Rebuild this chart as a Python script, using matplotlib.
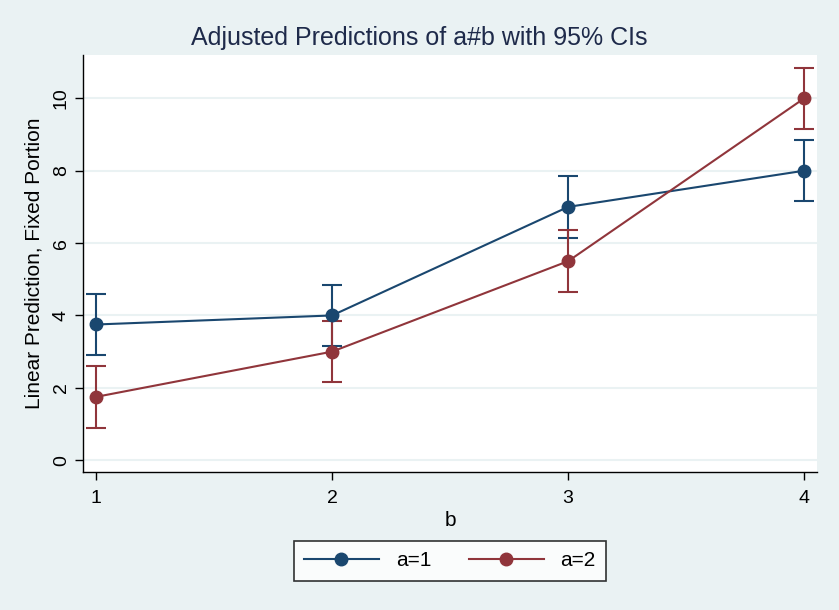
import numpy as np
import matplotlib.pyplot as plt

plt.rcParams['font.family'] = ['Liberation Sans Narrow', 'Liberation Sans', 'DejaVu Sans']

b_levels = [1, 2, 3, 4]
a1_pred = [3.75, 4.0, 7.0, 8.0]
a1_lo = [2.9, 3.15, 6.15, 7.15]
a1_hi = [4.6, 4.85, 7.85, 8.85]
a2_pred = [1.75, 3.0, 5.5, 10.0]
a2_lo = [0.9, 2.15, 4.65, 9.15]
a2_hi = [2.6, 3.85, 6.35, 10.85]

navy = '#1a476f'
maroon = '#90353b'
bg = '#eaf2f3'

fig = plt.figure(figsize=(8.39, 6.10), dpi=100, facecolor=bg)
ax = fig.add_axes([0.099, 0.226, 0.875, 0.684])
ax.set_facecolor('white')

for pred, lo, hi, col, lab in [(a1_pred, a1_lo, a1_hi, navy, 'a=1'),
                               (a2_pred, a2_lo, a2_hi, maroon, 'a=2')]:
    pred = np.array(pred)
    yerr = [pred - np.array(lo), np.array(hi) - pred]
    ax.errorbar(b_levels, pred, yerr=yerr, fmt='none', ecolor=col,
                elinewidth=1.5, capsize=7, capthick=1.5, zorder=2)
    ax.plot(b_levels, pred, color=col, lw=1.5, marker='o', ms=9, label=lab, zorder=3)

ax.set_xlim(0.945, 4.055)
ax.set_ylim(-0.33, 11.2)
ax.set_xticks(b_levels)
ax.set_yticks([0, 2, 4, 6, 8, 10])
ax.grid(axis='y', color=bg, lw=1.5)
ax.set_axisbelow(True)
for s in ['top', 'right']:
    ax.spines[s].set_visible(False)
for s in ['left', 'bottom']:
    ax.spines[s].set_color('black')
    ax.spines[s].set_linewidth(1.0)
ax.tick_params(axis='both', direction='out', length=6, width=1, labelsize=14, colors='black')
ax.tick_params(axis='x', pad=7)
for t in ax.get_yticklabels():
    t.set_rotation(90)
    t.set_va('center')

ax.set_xlabel('b', fontsize=15, labelpad=3)
ax.set_ylabel('Linear Prediction, Fixed Portion', fontsize=15, labelpad=7)
fig.suptitle('Adjusted Predictions of a#b with 95% CIs', fontsize=18, color='#1e2a4a', y=0.958)

leg = fig.legend(loc='center', bbox_to_anchor=(0.536, 0.081), ncol=2, fontsize=15,
                 frameon=True, fancybox=False, edgecolor='black', facecolor='white',
                 handlelength=3.6, columnspacing=1.8, borderpad=0.5, handletextpad=0.8)
leg.get_frame().set_linewidth(1.2)

fig.savefig('out.png', dpi=100, facecolor=bg)
